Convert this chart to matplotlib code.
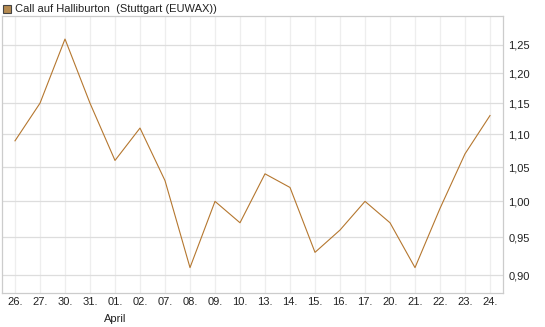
import numpy as np
import matplotlib
matplotlib.use("Agg")
import matplotlib.pyplot as plt
from matplotlib.ticker import FixedLocator, NullLocator
from matplotlib.patches import Rectangle

# data
days = ["26.", "27.", "30.", "31.", "01.", "02.", "07.", "08.", "09.", "10.",
        "13.", "14.", "15.", "16.", "17.", "20.", "21.", "22.", "23.", "24."]
prices = [1.09, 1.15, 1.26, 1.15, 1.06, 1.11, 1.03, 0.91, 1.00, 0.97,
          1.04, 1.02, 0.93, 0.96, 1.00, 0.97, 0.91, 0.99, 1.07, 1.13]
yticks = [0.90, 0.95, 1.00, 1.05, 1.10, 1.15, 1.20, 1.25]
month_label = "April"
title = "Call auf Halliburton  (Stuttgart (EUWAX))"

plt.rcParams['font.family'] = ['Liberation Sans', 'DejaVu Sans']

W, H = 545, 327
fig = plt.figure(figsize=(W / 100, H / 100), dpi=100)
left, right, top, bottom = 2, 503, 16, 293
ax = fig.add_axes([left / W, 1 - bottom / H, (right - left) / W, (bottom - top) / H])

x = np.arange(len(days))
ax.plot(x, prices, color="#b5772f", lw=0.8)

ax.set_yscale("log")
ax.set_ylim(0.8777, 1.302)
ax.set_xlim(-0.52, len(days) - 1 + 0.52)

ax.yaxis.set_major_locator(FixedLocator(yticks))
ax.yaxis.set_minor_locator(NullLocator())
ax.set_yticklabels([f"{v:.2f}".replace(".", ",") for v in yticks])
ax.yaxis.tick_right()
ax.set_xticks(x)
ax.set_xticklabels(days)

ax.tick_params(axis="both", length=0, labelsize=8, colors="#222222")
ax.tick_params(axis="y", pad=4)
ax.tick_params(axis="x", pad=3)

ax.grid(axis="y", color="#dddddd", lw=0.9)
ax.grid(axis="x", color="#eeeeee", lw=0.9)
for s in ax.spines.values():
    s.set_color("#cccccc")
    s.set_linewidth(0.9)

# month label under the first April day
ax.text(days.index("01."), -0.075, month_label, transform=ax.get_xaxis_transform(),
        ha="center", va="top", fontsize=8, color="#222222")

# legend-like header
fig.patches.append(Rectangle((3 / W, 1 - 13 / H), 8 / W, 8 / H, transform=fig.transFigure,
                             facecolor="#b58a50", edgecolor="#444444", lw=0.8))
fig.text(15 / W, 1 - 8.5 / H, title, fontsize=8, va="center", ha="left", color="#222222")

fig.savefig("out.png", dpi=100)
